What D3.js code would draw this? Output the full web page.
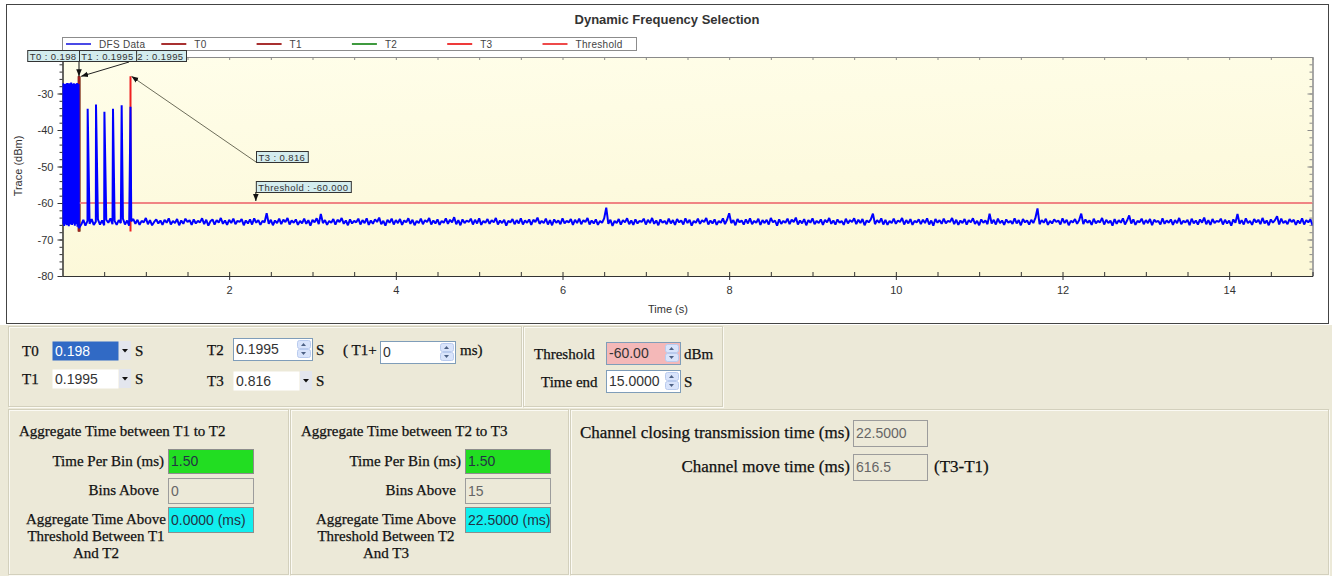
<!DOCTYPE html>
<html>
<head>
<meta charset="utf-8">
<script src="https://cdn.jsdelivr.net/npm/d3@7"></script>
<style>
  body { margin: 0; background: #fff; }
  svg { display: block; }
</style>
</head>
<body>
<svg id="chart" width="1332" height="576"></svg>
<script>
// ---- chart values ----
var timeEnd = 15;
var traceDomain = [-80, -20];
var timeTicks = [2, 4, 6, 8, 10, 12, 14];
var traceTicks = [-80, -70, -60, -50, -40, -30];
var legendLabels = ['DFS Data', 'T0', 'T1', 'T2', 'T3', 'Threshold'];
var legendColors = ['#4a4ae6', '#a83030', '#a83030', '#3f9a3f', '#ee3a3a', '#ee4a4a'];

var markerNames = ['T0', 'T1', 'T2', 'T3'];
var markerTimes = [0.198, 0.1995, 0.1995, 0.816];
var markerColors = ['#9e1f1f', '#9e1f1f', '#3f9a3f', '#f02020'];
var markerRange = [-67.8, -25.3];
var threshold = -60;
var thresholdLabelTime = 2.32;

// radar burst at the start (dense pulses)
var burstStep = 0.004;
var burstValues = [-27.6, -65.8, -27.2, -64.9, -27.9, -66.3, -27.4, -65.2, -28.0, -65.9,
  -27.3, -64.7, -27.7, -66.1, -27.1, -65.4, -27.8, -65.0, -27.5, -66.4,
  -27.2, -65.6, -27.9, -64.8, -27.4, -65.9, -27.0, -65.3, -27.6, -66.0,
  -27.3, -65.1, -27.8, -65.7, -27.2, -64.9, -27.5, -66.2, -27.9, -65.5,
  -27.3, -65.0, -27.7, -65.8, -27.1, -66.5, -27.6, -65.2, -27.4, -66.8];

// the single pulses after T1
var pulseTimes = [0.302, 0.402, 0.503, 0.606, 0.710, 0.816];
var pulsePeaks = [-34.2, -33.0, -35.0, -34.2, -33.2, -33.6];

// noise floor after the burst
var noiseStart = 0.2;
var noiseStep = 0.025;
var noiseValues = [
  -66.8, -65.9, -64.6, -66.2, -64.9, -65.7, -64.4, -66.0, -65.1, -64.5, -65.9, -64.8, -66.1, -64.6, -65.4, -64.2, -65.8, -64.9, -66.0, -64.7,
  -65.5, -64.3, -65.9, -64.8, -66.2, -65.0, -64.4, -65.7, -64.6, -66.0, -64.9, -65.3, -64.1, -65.8, -64.7, -66.1, -65.2, -64.5, -65.6, -64.8,
  -66.0, -64.6, -65.4, -64.2, -65.9, -64.9, -65.5, -64.4, -66.1, -64.8, -65.7, -64.3, -65.2, -64.7, -66.0, -64.5, -65.6, -64.9, -65.3, -64.2,
  -65.8, -64.6, -66.2, -65.0, -64.5, -65.9, -64.7, -65.4, -64.1, -65.7, -64.8, -66.0, -64.6, -65.5, -64.3, -65.8, -64.9, -65.2, -64.4, -66.1,
  -64.8, -65.6, -64.5, -65.9, -64.2, -65.4, -64.7, -66.0, -64.9, -65.3, -62.8, -65.7, -64.6, -66.1, -64.8, -65.5, -64.3, -65.8, -64.6, -65.2,
  -64.1, -65.9, -64.8, -65.4, -64.5, -66.0, -64.9, -65.6, -64.3, -65.7, -64.7, -66.2, -64.6, -65.3, -64.2, -65.8, -63.0, -65.5, -64.7, -66.0,
  -64.9, -65.4, -64.4, -65.9, -64.6, -65.2, -64.1, -65.7, -64.8, -66.1, -64.5, -65.6, -64.9, -65.3, -64.3, -65.9, -64.7, -65.5, -64.2, -66.0,
  -64.8, -65.7, -64.5, -65.2, -64.0, -65.8, -64.9, -66.2, -64.6, -65.4, -64.3, -65.9, -64.7, -65.5, -64.4, -66.0, -64.8, -65.3, -64.2, -65.7,
  -64.6, -66.1, -64.9, -65.5, -64.3, -65.8, -64.7, -65.2, -64.1, -65.9, -64.8, -65.6, -64.5, -66.0, -64.9, -65.4, -64.2, -65.7, -64.6, -65.3,
  -63.9, -65.8, -64.7, -66.1, -64.5, -65.5, -64.8, -65.2, -64.3, -65.9, -64.6, -65.6, -64.2, -66.0, -64.9, -65.4, -64.4, -65.7, -64.7, -65.3,
  -64.1, -65.9, -64.8, -65.5, -64.6, -66.2, -64.9, -65.3, -64.4, -65.8, -64.7, -65.6, -64.2, -65.9, -64.8, -65.4, -64.5, -66.0, -64.6, -65.2,
  -64.0, -65.7, -64.9, -65.5, -64.3, -65.9, -64.7, -66.1, -64.5, -65.4, -64.8, -65.8, -64.2, -65.6, -64.9, -65.3, -64.4, -66.0, -64.6, -65.5,
  -64.3, -65.8, -64.7, -65.2, -64.1, -65.9, -64.8, -65.6, -64.5, -66.0, -64.9, -65.4, -64.2, -61.3, -65.7, -64.6, -66.3, -64.9, -65.5, -64.4,
  -65.9, -64.7, -65.3, -64.2, -65.8, -64.8, -66.0, -64.5, -65.6, -64.9, -65.2, -64.3, -65.9, -64.6, -65.5, -64.1, -65.7, -64.8, -66.1, -64.5,
  -65.4, -64.9, -65.8, -64.3, -65.6, -64.7, -66.0, -64.4, -65.3, -64.8, -65.9, -64.2, -65.5, -64.6, -66.2, -64.9, -65.4, -64.3, -65.7, -64.7,
  -65.2, -64.1, -65.9, -64.8, -65.6, -64.5, -66.0, -64.9, -65.4, -64.2, -65.8, -64.6, -62.8, -65.5, -64.7, -66.1, -64.4, -65.3, -64.8, -65.9,
  -64.5, -65.6, -64.2, -65.8, -64.9, -65.4, -64.3, -66.0, -64.7, -65.5, -64.6, -65.9, -64.1, -65.3, -64.8, -66.2, -64.5, -65.7, -64.9, -65.4,
  -64.3, -65.8, -64.6, -65.2, -64.0, -65.9, -64.8, -65.6, -64.4, -66.1, -64.7, -65.4, -64.2, -65.8, -64.9, -65.5, -64.5, -66.0, -64.6, -65.3,
  -64.1, -65.7, -64.8, -65.9, -64.5, -65.4, -64.9, -66.0, -64.3, -65.6, -64.7, -65.2, -64.2, -65.8, -64.6, -65.5, -64.4, -66.1, -64.8, -65.3,
  -64.5, -62.9, -65.8, -64.7, -65.4, -64.2, -65.9, -64.6, -66.0, -64.9, -65.5, -64.3, -65.7, -64.8, -65.2, -64.1, -65.9, -64.7, -65.6, -64.4,
  -66.0, -64.9, -65.3, -64.5, -65.8, -64.6, -65.5, -64.2, -65.9, -64.8, -66.2, -64.4, -65.4, -64.7, -65.7, -64.3, -65.6, -64.9, -65.2, -64.1,
  -65.8, -64.6, -66.0, -64.8, -65.5, -64.4, -65.9, -64.7, -65.3, -64.2, -65.7, -64.9, -66.1, -64.5, -65.4, -64.8, -65.8, -62.9, -65.6, -64.6,
  -65.9, -64.3, -65.5, -64.8, -66.0, -64.5, -65.4, -64.9, -65.7, -64.2, -65.6, -64.7, -66.1, -64.4, -65.3, -64.8, -65.9, -64.6, -65.5, -64.1,
  -61.5, -65.8, -64.7, -65.4, -64.3, -66.0, -64.9, -65.6, -64.5, -65.2, -64.8, -65.9, -64.2, -65.5, -64.6, -66.1, -64.9, -65.3, -64.4, -65.7,
  -64.7, -62.9, -65.8, -64.5, -65.4, -64.8, -66.0, -64.3, -65.6, -64.9, -65.3, -64.1, -65.9, -64.6, -65.5, -64.8, -66.2, -64.4, -65.7, -64.7,
  -65.4, -64.2, -65.9, -64.8, -63.4, -65.6, -64.5, -66.0, -64.9, -65.3, -64.3, -65.8, -64.7, -65.5, -64.4, -66.1, -64.6, -65.2, -64.9, -65.9,
  -64.2, -65.7, -64.8, -65.4, -64.5, -66.0, -64.7, -65.5, -64.1, -65.8, -64.9, -65.3, -64.6, -66.1, -64.3, -65.6, -64.8, -65.9, -64.5, -65.4,
  -64.0, -65.8, -64.7, -66.0, -64.4, -65.5, -64.9, -65.2, -64.3, -65.9, -64.6, -65.6, -64.8, -66.2, -64.5, -65.4, -63.0, -65.7, -64.7, -65.9,
  -64.2, -65.5, -64.9, -66.0, -64.4, -65.3, -64.6, -65.8, -64.1, -65.6, -64.8, -66.1, -64.5, -65.4, -64.7, -63.6, -65.9, -64.3, -65.5, -64.9,
  -65.8, -64.4, -65.2, -64.6, -66.0, -64.8, -65.6, -64.2, -65.9, -64.7, -65.3, -64.5, -66.1, -64.9, -65.4, -64.3, -65.7, -64.6, -65.5, -64.8
];

// ---- fonts and frame ----
var SANS = '"Liberation Sans", Arial, sans-serif';
var SERIF = '"Liberation Serif", "Times New Roman", serif';
var NARROW = '"Liberation Sans Narrow", "Liberation Sans", Arial, sans-serif';
var X0 = 62.5, X1 = 1312.5, Y0 = 57, Y1 = 276;

var svg = d3.select('#chart');
var defs = svg.append('defs');

var grad = defs.append('linearGradient').attr('id', 'plotbg').attr('x1', 0).attr('y1', 0).attr('x2', 0.3).attr('y2', 1);
grad.append('stop').attr('offset', 0).attr('stop-color', '#fffeea');
grad.append('stop').attr('offset', 1).attr('stop-color', '#fcf8d8');

defs.append('clipPath').attr('id', 'plotclip')
  .append('rect').attr('x', X0).attr('y', Y0).attr('width', X1 - X0).attr('height', Y1 - Y0);

defs.append('marker').attr('id', 'arrow')
  .attr('viewBox', '0 0 10 10').attr('refX', 10).attr('refY', 5)
  .attr('markerWidth', 7).attr('markerHeight', 7).attr('orient', 'auto')
  .append('path').attr('d', 'M0,1L10,5L0,9Z').attr('fill', '#111');

svg.append('rect').attr('width', 1332).attr('height', 576).attr('fill', '#fff');
svg.append('rect').attr('x', 6.5).attr('y', 4.5).attr('width', 1322).attr('height', 319)
  .attr('fill', '#fff').attr('stroke', '#444');

var x = d3.scaleLinear().domain([0, timeEnd]).range([X0, X1]);
var y = d3.scaleLinear().domain(traceDomain).range([Y1, Y0]);

svg.append('rect').attr('x', X0).attr('y', Y0).attr('width', X1 - X0).attr('height', Y1 - Y0)
  .attr('fill', 'url(#plotbg)');

// title
svg.append('text').attr('x', 667).attr('y', 24).attr('text-anchor', 'middle')
  .attr('font-family', SANS).attr('font-size', 13).attr('font-weight', 'bold').attr('fill', '#333')
  .text('Dynamic Frequency Selection');

// ---- axes ----
var halfTicks = d3.range(0.5, timeEnd + 0.01, 0.5);
var minorTrace = d3.range(traceDomain[0], traceDomain[1] + 0.01, 2);
var asString = function(d) { return String(d); };

function styleAxis(g, color) {
  g.attr('font-family', SANS).attr('font-size', 11);
  g.select('.domain').attr('stroke', color);
  g.selectAll('.tick line').attr('stroke', color);
  g.selectAll('.tick text').attr('fill', '#333');
}

svg.append('g').attr('transform', 'translate(0,' + Y0 + ')')
  .call(d3.axisBottom(x).tickValues(halfTicks).tickSize(3).tickSizeOuter(0).tickFormat(''))
  .call(styleAxis, '#8a8a8a');
svg.append('g').attr('transform', 'translate(' + X1 + ',0)')
  .call(d3.axisLeft(y).tickValues(minorTrace).tickSize(3).tickSizeOuter(0).tickFormat(''))
  .call(styleAxis, '#8a8a8a');
svg.append('g').attr('transform', 'translate(' + X1 + ',0)')
  .call(d3.axisLeft(y).tickValues(traceTicks).tickSize(5).tickSizeOuter(0).tickFormat(''))
  .call(styleAxis, '#8a8a8a');

svg.append('g').attr('transform', 'translate(' + X0 + ',0)')
  .call(d3.axisLeft(y).tickValues(minorTrace).tickSize(3).tickSizeOuter(0).tickFormat(''))
  .call(styleAxis, '#333');
svg.append('g').attr('transform', 'translate(' + X0 + ',0)')
  .call(d3.axisLeft(y).tickValues(traceTicks).tickSize(5).tickSizeOuter(0).tickPadding(4).tickFormat(asString))
  .call(styleAxis, '#333');

svg.append('g').attr('transform', 'translate(0,' + Y1 + ')')
  .call(d3.axisTop(x).tickValues(halfTicks).tickSize(4).tickSizeOuter(0).tickFormat(''))
  .call(styleAxis, '#333');
svg.append('g').attr('transform', 'translate(0,' + Y1 + ')')
  .call(d3.axisBottom(x).tickValues(timeTicks).tickSize(4).tickSizeOuter(0).tickPadding(6).tickFormat(asString))
  .call(styleAxis, '#333');

svg.append('text').attr('transform', 'translate(22,166) rotate(-90)').attr('text-anchor', 'middle')
  .attr('font-family', SANS).attr('font-size', 11).attr('fill', '#333').text('Trace (dBm)');
svg.append('text').attr('x', 668).attr('y', 313).attr('text-anchor', 'middle')
  .attr('font-family', SANS).attr('font-size', 11).attr('fill', '#333').text('Time (s)');

// ---- markers, threshold, trace ----
var plot = svg.append('g').attr('clip-path', 'url(#plotclip)');

[2, 1, 0, 3].forEach(function(i) {
  plot.append('line')
    .attr('x1', x(markerTimes[i])).attr('x2', x(markerTimes[i]))
    .attr('y1', y(markerRange[0])).attr('y2', y(markerRange[1]))
    .attr('stroke', markerColors[i]).attr('stroke-width', i === 3 ? 2 : 2.5);
});

plot.append('line')
  .attr('x1', x(markerTimes[1])).attr('x2', x(timeEnd))
  .attr('y1', y(threshold)).attr('y2', y(threshold))
  .attr('stroke', '#f08484').attr('stroke-width', 2);

var trace = burstValues.map(function(v, i) { return { t: i * burstStep, v: v }; })
  .concat(noiseValues.map(function(v, i) { return { t: noiseStart + i * noiseStep, v: v }; }))
  .concat(pulseTimes.map(function(t, i) { return { t: t, v: pulsePeaks[i] }; }))
  .sort(function(a, b) { return a.t - b.t; });

plot.append('path').datum(trace)
  .attr('fill', 'none').attr('stroke', '#0000ff').attr('stroke-width', 2).attr('stroke-linejoin', 'bevel')
  .attr('d', d3.line().x(function(d) { return x(d.t); }).y(function(d) { return y(d.v); }));

// ---- legend ----
var legend = svg.append('g');
legend.append('rect').attr('x', 62.5).attr('y', 37.5).attr('width', 574).attr('height', 13)
  .attr('fill', '#fff').attr('stroke', '#8c8c8c');
var item = legend.selectAll('.item').data(legendLabels).enter().append('g')
  .attr('transform', function(d, i) { return 'translate(' + (66 + i * 95.3) + ',44)'; });
item.append('line').attr('x1', 0).attr('x2', 25).attr('stroke-width', 2)
  .attr('stroke', function(d, i) { return legendColors[i]; });
item.append('text').attr('x', 33).attr('y', 3.5)
  .attr('font-family', SANS).attr('font-size', 10).attr('fill', '#444').attr('letter-spacing', 0.3)
  .text(function(d) { return d; });

// ---- annotations ----
var notes = svg.append('g');
function note(label, bx, by, alignRight) {
  var g = notes.append('g');
  var r = g.append('rect').attr('y', by + 0.5).attr('height', 11)
    .attr('fill', '#d3ecee').attr('stroke', '#333');
  var t = g.append('text').attr('y', by + 9.5)
    .attr('font-family', SANS).attr('font-size', 9.5).attr('fill', '#333').attr('letter-spacing', 0.4)
    .text(label);
  var w = t.node().getComputedTextLength() + 5;
  var left = alignRight ? bx - w : bx;
  r.attr('x', left + 0.5).attr('width', w);
  t.attr('x', left + 2.5);
  return { left: left, right: left + w };
}
function arrow(x1, y1, x2, y2, color) {
  notes.append('line').attr('x1', x1).attr('y1', y1).attr('x2', x2).attr('y2', y2)
    .attr('stroke', color).attr('stroke-width', 1).attr('marker-end', 'url(#arrow)');
}
var topY = y(markerRange[1]);
note(markerNames[2] + ' : ' + markerTimes[2], 186, 50, true);
note(markerNames[1] + ' : ' + markerTimes[1], x(markerTimes[1]) - 0.5, 50, false);
note(markerNames[0] + ' : ' + markerTimes[0], x(markerTimes[0]), 50, true);
arrow(x(markerTimes[0]), 62, x(markerTimes[0]), topY, '#111');
arrow(129, 62, x(markerTimes[1]) + 2, topY, '#222');

note(markerNames[3] + ' : ' + markerTimes[3], 256, 151, false);
arrow(256, 162, x(markerTimes[3]) + 1, topY, '#6d6d5a');

note('Threshold : ' + threshold.toFixed(3), x(thresholdLabelTime), 181, false);
arrow(x(thresholdLabelTime), 192, x(thresholdLabelTime), y(threshold) - 2, '#111');

// ---- control panel below the chart ----
var ui = svg.append('g');
ui.append('rect').attr('x', 0).attr('y', 325).attr('width', 1332).attr('height', 251).attr('fill', '#ece9d8');

function panel(px, py, pw, ph) {
  ui.append('rect').attr('x', px + 1.5).attr('y', py + 1.5).attr('width', pw).attr('height', ph)
    .attr('fill', 'none').attr('stroke', '#fbfaf4');
  ui.append('rect').attr('x', px + 0.5).attr('y', py + 0.5).attr('width', pw).attr('height', ph)
    .attr('fill', 'none').attr('stroke', '#d3d0bd');
}
panel(8, 326, 513, 80);
panel(523, 326, 199, 80);
panel(8, 409, 280, 165);
panel(290, 409, 278, 165);
panel(570, 409, 758, 165);

function say(sx, sy, s, anchor, size) {
  return ui.append('text').attr('x', sx).attr('y', sy).attr('text-anchor', anchor || 'start')
    .attr('font-family', SERIF).attr('font-size', size || 15).attr('fill', '#111')
    .attr('stroke', '#111').attr('stroke-width', 0.25).text(s);
}
function spinner(fx, fy, fw, fh) {
  var bx = fx + fw - 15, bh = (fh - 4) / 2;
  [0, 1].forEach(function(k) {
    var by = fy + 2 + k * bh, cx = bx + 6.5, cy = by + bh / 2;
    ui.append('rect').attr('x', bx + 0.5).attr('y', by + 0.5).attr('width', 13).attr('height', bh - 1)
      .attr('rx', 2).attr('fill', '#d9e4fb').attr('stroke', '#b9cbee');
    var d = k === 0
      ? 'M' + (cx - 2.5) + ',' + (cy + 1.5) + 'L' + cx + ',' + (cy - 1.5) + 'L' + (cx + 2.5) + ',' + (cy + 1.5) + 'Z'
      : 'M' + (cx - 2.5) + ',' + (cy - 1.5) + 'L' + cx + ',' + (cy + 1.5) + 'L' + (cx + 2.5) + ',' + (cy - 1.5) + 'Z';
    ui.append('path').attr('d', d).attr('fill', '#4d6185');
  });
}
function dropdown(bx, by, bh) {
  ui.append('rect').attr('x', bx).attr('y', by).attr('width', 12).attr('height', bh).attr('fill', '#e3e6ee');
  var cx = bx + 6, cy = by + bh / 2;
  ui.append('path').attr('d', 'M' + (cx - 3) + ',' + (cy - 1.5) + 'L' + cx + ',' + (cy + 2) + 'L' + (cx + 3) + ',' + (cy - 1.5) + 'Z')
    .attr('fill', '#111');
}
function field(f) {
  ui.append('rect').attr('x', f.x + 0.5).attr('y', f.y + 0.5).attr('width', f.w).attr('height', f.h)
    .attr('fill', f.fill || '#fff').attr('stroke', f.stroke || 'none');
  ui.append('text').attr('x', f.x + 3).attr('y', f.y + f.h / 2 + 5)
    .attr('font-family', NARROW).attr('font-size', 14).attr('fill', f.color || '#333').text(f.value);
  if (f.spin) spinner(f.x, f.y, f.w, f.h);
  if (f.drop) dropdown(f.x + f.w + 1, f.y, f.h);
}

// row 1: time markers
say(22, 356, 'T0');
field({ x: 52, y: 341, w: 66, h: 19, value: String(markerTimes[0]), fill: '#316ac5', color: '#fff', drop: true });
say(135, 356, 'S');
say(22, 384, 'T1');
field({ x: 52, y: 369, w: 66, h: 19, value: String(markerTimes[1]), drop: true });
say(135, 384, 'S');
say(207, 355, 'T2');
field({ x: 233, y: 338, w: 79, h: 22, value: String(markerTimes[2]), stroke: '#7f9db9', spin: true });
say(316, 355, 'S');
say(343, 355, '( T1+');
field({ x: 380, y: 341, w: 75, h: 22, value: '0', stroke: '#7f9db9', spin: true });
say(460, 355, 'ms)');
say(207, 386, 'T3');
field({ x: 233, y: 371, w: 66, h: 19, value: String(markerTimes[3]), drop: true });
say(316, 386, 'S');

say(534, 359, 'Threshold');
field({ x: 606, y: 342, w: 74, h: 22, value: threshold.toFixed(2), fill: '#f4b8b8', stroke: '#7f9db9', spin: true });
say(684, 359, 'dBm');
say(541, 387, 'Time end');
field({ x: 606, y: 370, w: 74, h: 22, value: timeEnd.toFixed(4), stroke: '#7f9db9', spin: true });
say(684, 387, 'S');

// row 2: aggregate time boxes
[{ px: 8, dx: 0, cx: 96, a: 'T1', b: 'T2', bins: '0', agg: '0.0000 (ms)' },
 { px: 290, dx: 297, cx: 386, a: 'T2', b: 'T3', bins: '15', agg: '22.5000 (ms)' }].forEach(function(p) {
  say(p.px + 11, 436, 'Aggregate Time between ' + p.a + ' to ' + p.b);
  say(164 + p.dx, 466, 'Time Per Bin (ms)', 'end');
  field({ x: 168 + p.dx, y: 449, w: 85, h: 24, value: '1.50', fill: '#22dd22', stroke: '#8d8d8d', color: '#234' });
  say(159 + p.dx, 495, 'Bins Above', 'end');
  field({ x: 168 + p.dx, y: 478, w: 85, h: 25, value: p.bins, fill: '#ece9d8', stroke: '#9c9c9c', color: '#666' });
  say(p.cx, 524, 'Aggregate Time Above', 'middle');
  say(p.cx, 541, 'Threshold Between ' + p.a, 'middle');
  say(p.cx, 558, 'And ' + p.b, 'middle');
  field({ x: 168 + p.dx, y: 507, w: 85, h: 25, value: p.agg, fill: '#11eeee', stroke: '#8d8d8d', color: '#234' });
});

say(850, 438, 'Channel closing transmission time (ms)', 'end', 17);
field({ x: 853, y: 420, w: 74, h: 26, value: '22.5000', fill: '#ece9d8', stroke: '#9c9c9c', color: '#666' });
say(850, 472, 'Channel move time (ms)', 'end', 17);
field({ x: 853, y: 454, w: 74, h: 26, value: '616.5', fill: '#ece9d8', stroke: '#9c9c9c', color: '#666' });
say(934, 472, '(T3-T1)', 'start', 17);
</script>
</body>
</html>
